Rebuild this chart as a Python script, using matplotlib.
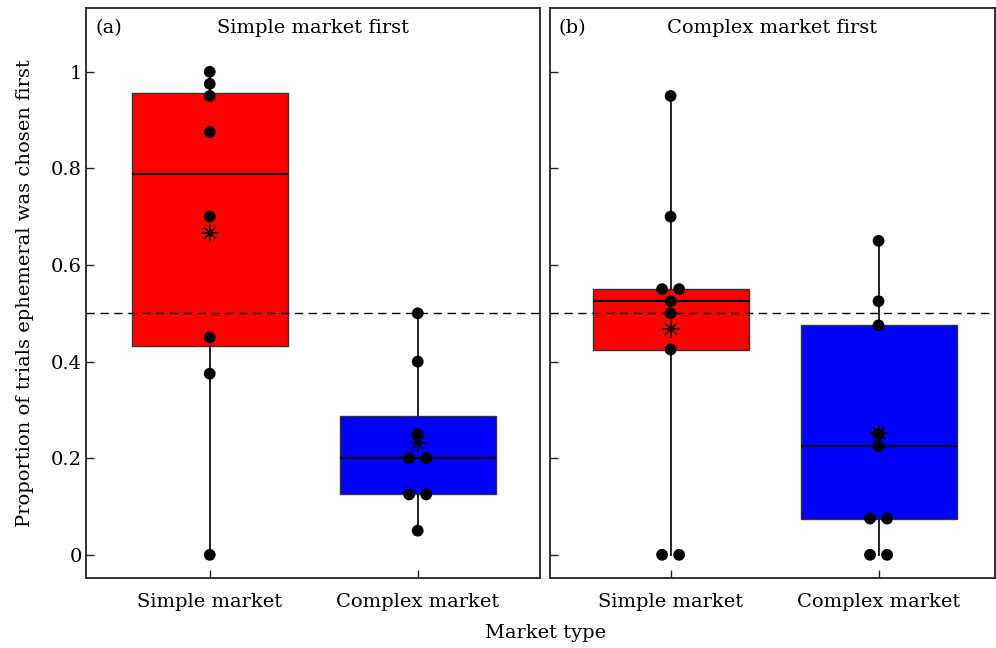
import numpy as np
import matplotlib
matplotlib.use("Agg")
import matplotlib.pyplot as plt

# ---------------- data ----------------
panel_tags = ["(a)", "(b)"]
panel_titles = ["Simple market first", "Complex market first"]
categories = ["Simple market", "Complex market"]
a_simple = [0, 0.375, 0.45, 0.7, 0.875, 0.95, 0.975, 1.0]
a_complex = [0.05, 0.125, 0.125, 0.2, 0.2, 0.25, 0.4, 0.5]
b_simple = [0, 0, 0.425, 0.5, 0.525, 0.55, 0.55, 0.7, 0.95]
b_complex = [0, 0, 0.075, 0.075, 0.225, 0.25, 0.475, 0.525, 0.65]
yticks = [0, 0.2, 0.4, 0.6, 0.8, 1]
ytick_labels = ["0", "0.2", "0.4", "0.6", "0.8", "1"]
chance = 0.5
box_colors = ["#ff0000", "#0000ff"]
ylabel = "Proportion of trials ephemeral was chosen first"
xlabel = "Market type"

panels = [[a_simple, a_complex], [b_simple, b_complex]]

plt.rcParams['font.family'] = ['DejaVu Serif']
FS = 14

fig = plt.figure(figsize=(9.96, 6.48), dpi=100)
W, H = 996, 648
rects = [(86, 8, 540, 578), (550, 8, 995, 578)]
xlims = [(0.405, 2.588), (0.42, 2.56)]
edge = '#222222'


def offsets(vals, d=0.082):
    vals = np.asarray(vals)
    off = np.zeros(len(vals))
    for v in np.unique(vals):
        idx = np.where(vals == v)[0]
        k = len(idx)
        off[idx] = (np.arange(k) - (k - 1) / 2) * d
    return off


for i, (groups, (l, t, r, b)) in enumerate(zip(panels, rects)):
    ax = fig.add_axes([l / W, (H - b) / H, (r - l) / W, (b - t) / H])
    bp = ax.boxplot(groups, positions=[1, 2], widths=0.75, whis=(0, 100),
                    patch_artist=True, showcaps=False, showfliers=False,
                    medianprops=dict(color='black', lw=1.5),
                    boxprops=dict(edgecolor='#333333', lw=1.0),
                    whiskerprops=dict(color='#222222', lw=1.4))
    for patch, c in zip(bp['boxes'], box_colors):
        patch.set_facecolor(c)
    ax.axhline(chance, color='black', lw=1.0, ls=(0, (6, 4)), zorder=3)
    for j, g in enumerate(groups):
        pos = j + 1
        ax.scatter(pos + offsets(g), g, s=72, color='black', zorder=5,
                   edgecolors='none')
        m = np.mean(g)
        ax.plot([pos], [m], marker='+', ms=13, mew=1.1, color='black', zorder=6)
        ax.plot([pos], [m], marker='x', ms=9.2, mew=1.1, color='black', zorder=6)
    ax.set_xlim(*xlims[i])
    ax.set_ylim(-0.048, 1.132)
    ax.set_xticks([1, 2])
    ax.set_xticklabels(categories, fontsize=FS)
    ax.set_yticks(yticks)
    if i == 0:
        ax.set_yticklabels(ytick_labels, fontsize=FS)
        ax.set_ylabel(ylabel, fontsize=FS, labelpad=12)
    else:
        ax.set_yticklabels([])
    ax.tick_params(direction='in', length=6, width=1.0, color=edge)
    ax.tick_params(axis='x', pad=11)
    ax.tick_params(axis='y', pad=3)
    for s in ax.spines.values():
        s.set_linewidth(1.3)
        s.set_color(edge)
    ax.text(0.02, 0.965, panel_tags[i], transform=ax.transAxes,
            fontsize=FS, va='center', ha='left')
    ax.text(0.5, 0.965, panel_titles[i], transform=ax.transAxes,
            fontsize=FS, va='center', ha='center')

fig.text(546 / W, 1 - 633 / H, xlabel, fontsize=FS, ha='center', va='center')

fig.savefig("out.png", dpi=100)
